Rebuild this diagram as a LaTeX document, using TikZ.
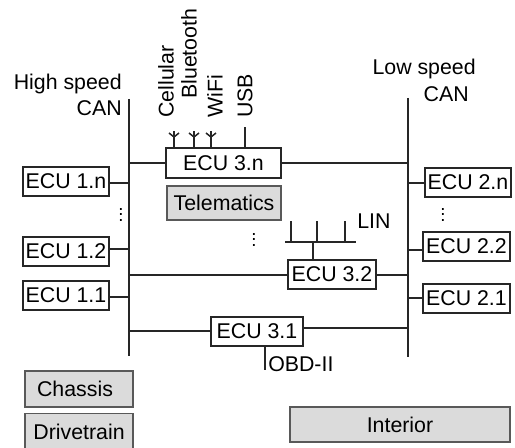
\documentclass[tikz,border=0pt]{standalone}
\usepackage{fontspec}
\setmainfont{Liberation Sans}
\usetikzlibrary{positioning}

\begin{document}
\begin{tikzpicture}[
  x=0.75pt, y=-0.75pt,
  ecu/.style={draw=black!85, line width=1.1pt, fill=white, inner sep=0pt, font=\fontsize{16}{18}\selectfont},
  zone/.style={draw=black!65, line width=0.9pt, fill=black!14, inner sep=0pt, font=\fontsize{16}{18}\selectfont},
  bus/.style={line width=1.25pt, black!85},
  wire/.style={line width=1.15pt, black!85},
  lbl/.style={inner sep=0pt, font=\fontsize{16}{18}\selectfont},
  vdots/.style={inner sep=0pt, font=\fontsize{14}{16}\selectfont}
]
\useasboundingbox (0,0) rectangle (515,448);
% the two CAN lines
\coordinate (hstop) at (129,99);
\coordinate (hsend) at (129,356);
\coordinate (lstop) at (408,98);
\coordinate (lsend) at (408,357);
\draw[bus] (hstop) -- (hsend);
\draw[bus] (lstop) -- (lsend);
\node[lbl, anchor=east, align=right] (hslabel) at (122,95) {High speed\\[2pt]CAN};
\node[lbl, anchor=east, align=right] (lslabel) at (476,80.5) {Low speed\\[2pt]CAN\hspace*{5.25pt}};
% left side
\node[ecu, minimum width=64.5pt, minimum height=21.75pt] (ecu1n) at (66,181.5) {ECU 1.n};
\node[ecu, minimum width=64.5pt, minimum height=21.75pt] (ecu12) at (66,251.5) {ECU 1.2};
\node[ecu, minimum width=64.5pt, minimum height=21.75pt] (ecu11) at (66,295.5) {ECU 1.1};
% right side
\node[ecu, minimum width=64.5pt, minimum height=21.75pt] (ecu2n) at (468,182.5) {ECU 2.n};
\node[ecu, minimum width=65.25pt, minimum height=21.75pt] (ecu22) at (466.5,246.5) {ECU 2.2};
\node[ecu, minimum width=65.25pt, minimum height=21.75pt] (ecu21) at (466.5,298.5) {ECU 2.1};
% middle
\node[ecu, minimum width=86.25pt, minimum height=22.5pt] (ecu3n) at (223.5,163) {ECU 3.n};
\node[zone, minimum width=85.5pt, minimum height=25.5pt] (telematics) at (224,203) {Telematics};
\node[ecu, minimum width=66pt, minimum height=21.75pt] (ecu32) at (332,274.5) {ECU 3.2};
\node[ecu, minimum width=69pt, minimum height=21.75pt] (ecu31) at (257,331.5) {ECU 3.1};
\node[zone, minimum width=81pt, minimum height=27pt] (chassis) at (79,389) {Chassis\hspace*{6pt}};
\node[zone, minimum width=81pt, minimum height=27pt] (drivetrain) at (79,431.5) {Drivetrain};
\node[zone, minimum width=165pt, minimum height=26.25pt] (interior) at (400,424.5) {Interior};
\node[vdots] (dotsa) at (121,211) {$\vdots$};
\node[vdots] (dotsb) at (443,211) {$\vdots$};
\node[vdots] (dotsc) at (254,236) {$\vdots$};
% stubs onto the CAN lines
\draw[wire] (ecu1n.east |- 0,183) -- (hstop |- 0,183);
\draw[wire] (ecu12.east |- 0,249) -- (hstop |- 0,249);
\draw[wire] (ecu11.east |- 0,297) -- (hstop |- 0,297);
\draw[wire] (ecu2n.west |- 0,183) -- (lstop |- 0,183);
\draw[wire] (ecu22.west |- 0,250) -- (lstop |- 0,250);
\draw[wire] (ecu21.west |- 0,298) -- (lstop |- 0,298);
\draw[wire] (ecu3n.west) -- (hstop |- ecu3n.west);
\draw[wire] (ecu3n.east) -- (lstop |- ecu3n.east);
\draw[wire] (ecu32.west |- 0,274.9) -- (hstop |- 0,274.9);
\draw[wire] (ecu32.east |- 0,274.9) -- (lstop |- 0,274.9);
\draw[wire] (ecu31.west |- 0,331) -- (hstop |- 0,331);
\draw[wire] (ecu31.east |- 0,328) -- (lstop |- 0,328);
% antennas and USB on ECU 3.n
\foreach \ax in {174,194,211} {
  \draw[wire] (ecu3n.north -| \ax,0) -- (\ax,131);
  \draw[wire] (\ax-5,133) -- (\ax,137) -- (\ax+5,133);
}
\coordinate (usbtop) at (245,127);
\draw[wire] (ecu3n.north -| usbtop) -- (usbtop);
\node[lbl, rotate=90, anchor=west] (cellular) at (166,118) {Cellular};
\node[lbl, rotate=90, anchor=west] (bluetooth) at (189,99) {Bluetooth};
\node[lbl, rotate=90, anchor=west] (wifi) at (215,118) {WiFi};
\node[lbl, rotate=90, anchor=west] (usb) at (245,118) {USB};
% LIN on ECU 3.2
\coordinate (linleft) at (285,242);
\coordinate (linright) at (356,242);
\draw[wire] (linleft) -- (linright);
\draw[wire] (ecu32.north -| 313,0) -- (linleft -| 313,0);
\foreach \lx in {291,317,345} {
  \draw[wire] (linleft -| \lx,0) -- (\lx,221);
}
\node[lbl, anchor=west] (lin) at (357,221) {LIN};
% OBD-II on ECU 3.1
\coordinate (obdend) at (265,370);
\draw[wire] (ecu31.south -| obdend) -- (obdend);
\node[lbl, anchor=west] (obd) at (268,364) {OBD-II};
\end{tikzpicture}
\end{document}
